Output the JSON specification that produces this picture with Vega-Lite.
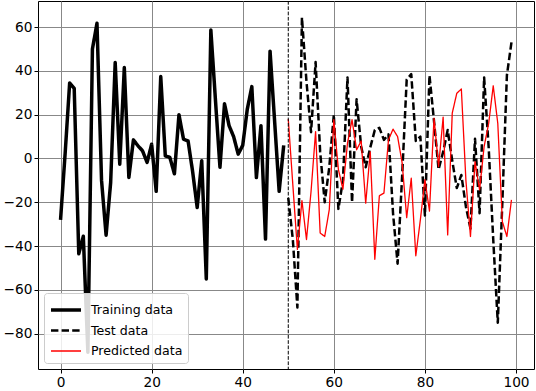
{
  "$schema": "https://vega.github.io/schema/vega-lite/v6.json",
  "width": 496,
  "height": 368,
  "autosize": {"type": "none"},
  "padding": {"left": 38, "top": 1, "right": 2, "bottom": 22},
  "background": "white",
  "config": {
    "view": {"stroke": "black", "strokeWidth": 1},
    "axis": {
      "domain": false,
      "grid": true,
      "gridColor": "#888888",
      "gridWidth": 1,
      "tickColor": "black",
      "tickSize": 4,
      "labelFont": "DejaVu Sans",
      "labelFontSize": 13.7,
      "labelColor": "black",
      "labelPadding": 2,
      "title": null
    },
    "legend": {
      "labelFont": "DejaVu Sans",
      "labelFontSize": 12.6,
      "labelColor": "black"
    }
  },
  "datasets": {
    "lines": [
      {"x": 0, "y": -28, "series": "Training data"},
      {"x": 1, "y": 2, "series": "Training data"},
      {"x": 2, "y": 34.5, "series": "Training data"},
      {"x": 3, "y": 32, "series": "Training data"},
      {"x": 4, "y": -43.5, "series": "Training data"},
      {"x": 5, "y": -35.5, "series": "Training data"},
      {"x": 6, "y": -88.4, "series": "Training data"},
      {"x": 7, "y": 50, "series": "Training data"},
      {"x": 8, "y": 61.7, "series": "Training data"},
      {"x": 9, "y": -10, "series": "Training data"},
      {"x": 10, "y": -35, "series": "Training data"},
      {"x": 11, "y": -11, "series": "Training data"},
      {"x": 12, "y": 43.8, "series": "Training data"},
      {"x": 13, "y": -2.6, "series": "Training data"},
      {"x": 14, "y": 41.5, "series": "Training data"},
      {"x": 15, "y": -8.7, "series": "Training data"},
      {"x": 16, "y": 8.5, "series": "Training data"},
      {"x": 17, "y": 5.8, "series": "Training data"},
      {"x": 18, "y": 3.5, "series": "Training data"},
      {"x": 19, "y": -1.8, "series": "Training data"},
      {"x": 20, "y": 6.5, "series": "Training data"},
      {"x": 21, "y": -15, "series": "Training data"},
      {"x": 22, "y": 37.4, "series": "Training data"},
      {"x": 23, "y": 1.2, "series": "Training data"},
      {"x": 24, "y": 0.5, "series": "Training data"},
      {"x": 25, "y": -7, "series": "Training data"},
      {"x": 26, "y": 20, "series": "Training data"},
      {"x": 27, "y": 8.8, "series": "Training data"},
      {"x": 28, "y": 8, "series": "Training data"},
      {"x": 29, "y": -6, "series": "Training data"},
      {"x": 30, "y": -22.4, "series": "Training data"},
      {"x": 31, "y": -1, "series": "Training data"},
      {"x": 32, "y": -55, "series": "Training data"},
      {"x": 33, "y": 58.7, "series": "Training data"},
      {"x": 34, "y": 27, "series": "Training data"},
      {"x": 35, "y": -4, "series": "Training data"},
      {"x": 36, "y": 25, "series": "Training data"},
      {"x": 37, "y": 15, "series": "Training data"},
      {"x": 38, "y": 10, "series": "Training data"},
      {"x": 39, "y": 2, "series": "Training data"},
      {"x": 40, "y": 6, "series": "Training data"},
      {"x": 41, "y": 22.5, "series": "Training data"},
      {"x": 42, "y": 32.8, "series": "Training data"},
      {"x": 43, "y": -8.7, "series": "Training data"},
      {"x": 44, "y": 15, "series": "Training data"},
      {"x": 45, "y": -36.8, "series": "Training data"},
      {"x": 46, "y": 49, "series": "Training data"},
      {"x": 47, "y": 17, "series": "Training data"},
      {"x": 48, "y": -15, "series": "Training data"},
      {"x": 49, "y": 6, "series": "Training data"},
      {"x": 50, "y": -18, "series": "Test data"},
      {"x": 51, "y": -37, "series": "Test data"},
      {"x": 52, "y": -68, "series": "Test data"},
      {"x": 53, "y": 64.3, "series": "Test data"},
      {"x": 54, "y": 35, "series": "Test data"},
      {"x": 55, "y": 12, "series": "Test data"},
      {"x": 56, "y": 44, "series": "Test data"},
      {"x": 57, "y": 3, "series": "Test data"},
      {"x": 58, "y": -20, "series": "Test data"},
      {"x": 59, "y": -4, "series": "Test data"},
      {"x": 60, "y": 20, "series": "Test data"},
      {"x": 61, "y": -23, "series": "Test data"},
      {"x": 62, "y": -10, "series": "Test data"},
      {"x": 63, "y": 37, "series": "Test data"},
      {"x": 64, "y": -20, "series": "Test data"},
      {"x": 65, "y": 27, "series": "Test data"},
      {"x": 66, "y": 5.5, "series": "Test data"},
      {"x": 67, "y": -4, "series": "Test data"},
      {"x": 68, "y": 5, "series": "Test data"},
      {"x": 69, "y": 13, "series": "Test data"},
      {"x": 70, "y": 14, "series": "Test data"},
      {"x": 71, "y": 8.5, "series": "Test data"},
      {"x": 72, "y": 11, "series": "Test data"},
      {"x": 73, "y": -25, "series": "Test data"},
      {"x": 74, "y": -48, "series": "Test data"},
      {"x": 75, "y": -8, "series": "Test data"},
      {"x": 76, "y": 36, "series": "Test data"},
      {"x": 77, "y": 38.5, "series": "Test data"},
      {"x": 78, "y": 8, "series": "Test data"},
      {"x": 79, "y": 10, "series": "Test data"},
      {"x": 80, "y": -26, "series": "Test data"},
      {"x": 81, "y": 38, "series": "Test data"},
      {"x": 82, "y": 17, "series": "Test data"},
      {"x": 83, "y": -5, "series": "Test data"},
      {"x": 84, "y": 3, "series": "Test data"},
      {"x": 85, "y": 13, "series": "Test data"},
      {"x": 86, "y": -1, "series": "Test data"},
      {"x": 87, "y": -13.5, "series": "Test data"},
      {"x": 88, "y": -7.5, "series": "Test data"},
      {"x": 89, "y": -22, "series": "Test data"},
      {"x": 90, "y": -32, "series": "Test data"},
      {"x": 91, "y": 9, "series": "Test data"},
      {"x": 92, "y": -25, "series": "Test data"},
      {"x": 93, "y": 37, "series": "Test data"},
      {"x": 94, "y": 5, "series": "Test data"},
      {"x": 95, "y": -37, "series": "Test data"},
      {"x": 96, "y": -75, "series": "Test data"},
      {"x": 97, "y": -20, "series": "Test data"},
      {"x": 98, "y": 38, "series": "Test data"},
      {"x": 99, "y": 53, "series": "Test data"},
      {"x": 50, "y": 18, "series": "Predicted data"},
      {"x": 51, "y": -12, "series": "Predicted data"},
      {"x": 52, "y": -41.5, "series": "Predicted data"},
      {"x": 53, "y": -19.2, "series": "Predicted data"},
      {"x": 54, "y": -37, "series": "Predicted data"},
      {"x": 55, "y": -15, "series": "Predicted data"},
      {"x": 56, "y": 12.3, "series": "Predicted data"},
      {"x": 57, "y": -34, "series": "Predicted data"},
      {"x": 58, "y": -35.6, "series": "Predicted data"},
      {"x": 59, "y": -23.4, "series": "Predicted data"},
      {"x": 60, "y": 17.7, "series": "Predicted data"},
      {"x": 61, "y": -5, "series": "Predicted data"},
      {"x": 62, "y": -14, "series": "Predicted data"},
      {"x": 63, "y": 7, "series": "Predicted data"},
      {"x": 64, "y": 17.7, "series": "Predicted data"},
      {"x": 65, "y": 4, "series": "Predicted data"},
      {"x": 66, "y": 8, "series": "Predicted data"},
      {"x": 67, "y": -20.4, "series": "Predicted data"},
      {"x": 68, "y": 3, "series": "Predicted data"},
      {"x": 69, "y": -46, "series": "Predicted data"},
      {"x": 70, "y": -17, "series": "Predicted data"},
      {"x": 71, "y": -15.8, "series": "Predicted data"},
      {"x": 72, "y": 8.5, "series": "Predicted data"},
      {"x": 73, "y": 13.4, "series": "Predicted data"},
      {"x": 74, "y": 10, "series": "Predicted data"},
      {"x": 75, "y": -2, "series": "Predicted data"},
      {"x": 76, "y": -27, "series": "Predicted data"},
      {"x": 77, "y": -9, "series": "Predicted data"},
      {"x": 78, "y": -44.4, "series": "Predicted data"},
      {"x": 79, "y": -28, "series": "Predicted data"},
      {"x": 80, "y": -9.7, "series": "Predicted data"},
      {"x": 81, "y": -24, "series": "Predicted data"},
      {"x": 82, "y": 18.4, "series": "Predicted data"},
      {"x": 83, "y": -3.7, "series": "Predicted data"},
      {"x": 84, "y": 18.9, "series": "Predicted data"},
      {"x": 85, "y": -34.9, "series": "Predicted data"},
      {"x": 86, "y": 20.7, "series": "Predicted data"},
      {"x": 87, "y": 29.8, "series": "Predicted data"},
      {"x": 88, "y": 31.7, "series": "Predicted data"},
      {"x": 89, "y": -10, "series": "Predicted data"},
      {"x": 90, "y": -35.6, "series": "Predicted data"},
      {"x": 91, "y": -1.4, "series": "Predicted data"},
      {"x": 92, "y": -14.3, "series": "Predicted data"},
      {"x": 93, "y": 5.5, "series": "Predicted data"},
      {"x": 94, "y": 16, "series": "Predicted data"},
      {"x": 95, "y": 33.2, "series": "Predicted data"},
      {"x": 96, "y": 16, "series": "Predicted data"},
      {"x": 97, "y": -28.8, "series": "Predicted data"},
      {"x": 98, "y": -35.6, "series": "Predicted data"},
      {"x": 99, "y": -18.9, "series": "Predicted data"}
    ],
    "split": [{"x": 50}]
  },
  "layer": [
    {
      "data": {"name": "lines"},
      "mark": {"type": "line", "clip": true, "strokeCap": "butt", "strokeJoin": "round"},
      "encoding": {
        "x": {
          "field": "x",
          "type": "quantitative",
          "scale": {"domain": [-4.95, 103.95], "nice": false, "zero": false},
          "axis": {"values": [0, 20, 40, 60, 80, 100]}
        },
        "y": {
          "field": "y",
          "type": "quantitative",
          "scale": {"domain": [-96.1, 71.9], "nice": false, "zero": false},
          "axis": {"values": [-80, -60, -40, -20, 0, 20, 40, 60]}
        },
        "color": {
          "field": "series",
          "type": "nominal",
          "scale": {"domain": ["Training data", "Test data", "Predicted data"], "range": ["black", "black", "red"]},
          "legend": {
            "title": null,
            "orient": "bottom-left",
            "offset": 6,
            "symbolType": "M-1.5,0H1.5",
            "symbolSize": 400,
            "symbolOffset": 5,
            "fillColor": "rgba(255,255,255,0.85)",
            "strokeColor": "#cccccc",
            "cornerRadius": 3,
            "padding": 5,
            "rowPadding": 2,
            "labelOffset": 13
          }
        },
        "strokeDash": {
          "field": "series",
          "type": "nominal",
          "scale": {"domain": ["Training data", "Test data", "Predicted data"], "range": [[1, 0], [7.4, 3.2], [1, 0]]},
          "legend": null
        },
        "strokeWidth": {
          "field": "series",
          "type": "nominal",
          "scale": {"type": "ordinal", "domain": ["Training data", "Test data", "Predicted data"], "range": [3.5, 2.5, 1.3]},
          "legend": null
        },
        "detail": {"field": "series"}
      }
    },
    {
      "data": {"name": "split"},
      "mark": {"type": "rule", "color": "black", "strokeWidth": 1, "strokeDash": [3.7, 1.6]},
      "encoding": {"x": {"field": "x", "type": "quantitative"}}
    }
  ]
}
